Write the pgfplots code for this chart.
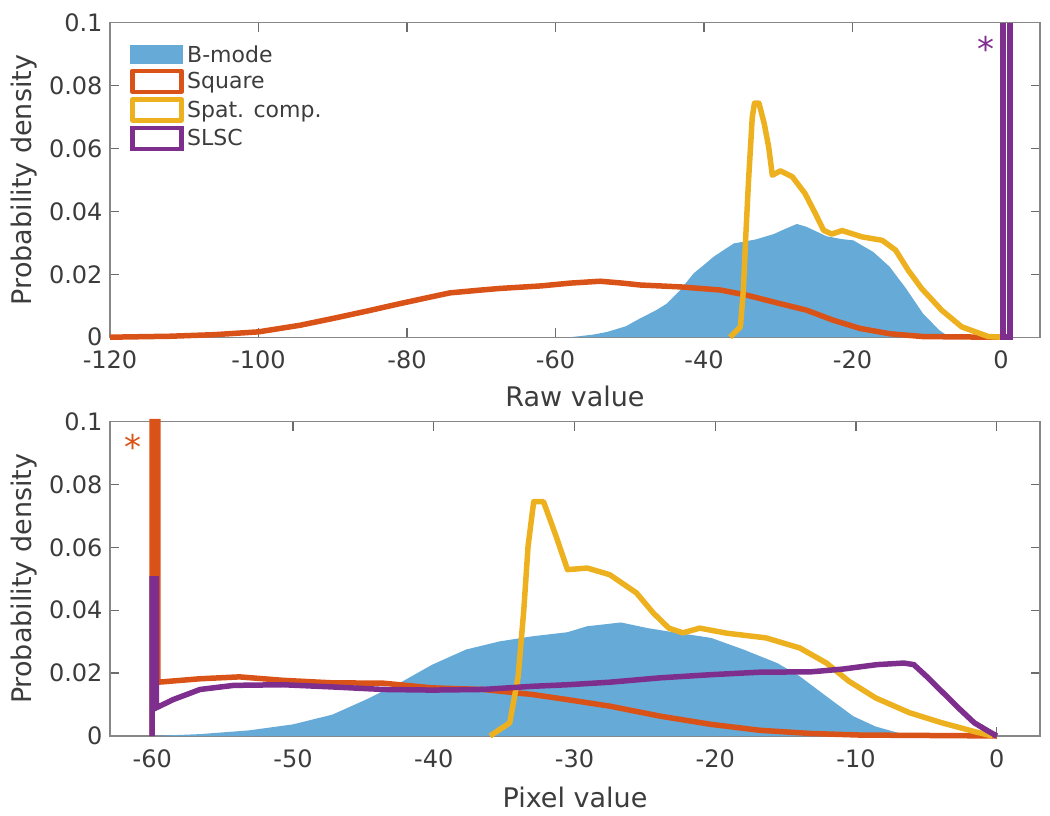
\documentclass[border=0pt]{standalone}
\usepackage{pgfplots}
\pgfplotsset{compat=1.18}
\usepackage{fontspec}
\setmainfont{DejaVu Sans}
\definecolor{bmode}{HTML}{66AAD8}
\definecolor{square}{HTML}{D95319}
\definecolor{spat}{HTML}{EDB120}
\definecolor{slsc}{HTML}{7E2F8E}
\definecolor{axgray}{RGB}{135,135,135}
\definecolor{txtgray}{RGB}{60,60,60}
\pgfplotsset{
  mlstyle/.style={
    scale only axis, width=930pt, height=314.5pt,
    ymin=0, ymax=0.1,
    ytick={0,0.02,0.04,0.06,0.08,0.1},
    yticklabels={0,0.02,0.04,0.06,0.08,0.1},
    axis line style={draw=axgray, line width=1.3pt},
    tick style={draw=axgray!80!black, line width=1.3pt},
    major tick length=9pt, tick align=inside,
    ticklabel style={font=\fontsize{24}{24}\selectfont, text=txtgray},
    xticklabel style={yshift=-10pt},
    yticklabel style={xshift=-4pt},
    label style={font=\fontsize{27}{27}\selectfont, text=txtgray},
    ylabel style={at={(axis description cs:-0.0925,0.5)}, anchor=center},
    clip=false,
    ylabel={Probability density},
  },
  lw/.style={line width=5.5pt, line join=round},
}
\begin{document}
\begin{tikzpicture}[x=1pt,y=1pt]
\useasboundingbox (-110,22.7) rectangle (940,-793.3);
\begin{axis}[mlstyle, at={(0pt,0pt)}, anchor=north west,
  xmin=-120, xmax=5.25,
  xtick={-120,-100,-80,-60,-40,-20,0},
  xticklabels={-120,-100,-80,-60,-40,-20,0},
  xlabel={Raw value},
  xlabel style={at={(axis description cs:0.5,0)}, anchor=base, yshift=-69pt},
  legend style={at={(axis description cs:0.0215,0.935)}, anchor=north west,
    draw=none, fill=none, inner sep=0pt, row sep=3pt,
    font=\fontsize{22}{26}\selectfont, text=txtgray,
    nodes={inner ysep=2pt, inner xsep=3.5pt}},
  legend cell align=left,
]
\addplot[fill=bmode, draw=none,
  legend image code/.code={\fill[bmode] (0pt,-9.5pt) rectangle (53pt,9.5pt);}]
  coordinates {(-58,0) (-55,0.0008) (-53,0.0017) (-50.5,0.0035) (-48.6,0.006) (-46.5,0.0085) (-45,0.0107) (-43.2,0.015) (-41.4,0.0203) (-40,0.023) (-38.7,0.0256) (-36,0.0298) (-33,0.0311) (-30.6,0.0328) (-29,0.0345) (-27.5,0.036) (-26.2,0.0351) (-23.5,0.0321) (-21.5,0.0312) (-19.9,0.0308) (-17.2,0.0271) (-15,0.0224) (-12.8,0.0155) (-10.5,0.0075) (-8.3,0.0022) (-6.9,0)} \closedcycle;
\addlegendentry{B-mode}
\addplot[square, lw,
  legend image code/.code={\draw[square, line width=4.5pt] (2pt,-10.5pt) rectangle (51pt,10.5pt);}]
  coordinates {(-120,0) (-112,0.0003) (-106,0.0008) (-100,0.0017) (-94.4,0.0038) (-89.9,0.006) (-85.4,0.0083) (-80.9,0.0107) (-76.4,0.013) (-74.2,0.0141) (-70,0.015) (-67.5,0.0155) (-62,0.0163) (-58,0.0172) (-54,0.0178) (-51,0.0172) (-48.6,0.0166) (-43.2,0.016) (-37.8,0.015) (-34.3,0.0134) (-29.8,0.0107) (-26.2,0.0086) (-22.6,0.0054) (-19,0.0028) (-15,0.0011) (-10.5,0.0002) (-1,0) (0,0)};
\addlegendentry{Square}
\addplot[spat, lw,
  legend image code/.code={\draw[spat, line width=4.5pt] (2pt,-10.5pt) rectangle (51pt,10.5pt);}]
  coordinates {(-36.5,0) (-35.1,0.0033) (-34.7,0.015) (-34.4,0.0309) (-34,0.05) (-33.5,0.07) (-33.2,0.0744) (-32.6,0.0744) (-31.9,0.068) (-31.3,0.0606) (-30.8,0.0515) (-29.7,0.0529) (-28.1,0.051) (-26.4,0.0457) (-25,0.0393) (-23.9,0.034) (-22.8,0.0328) (-21.4,0.0339) (-18.7,0.0319) (-16,0.0308) (-14.2,0.0277) (-12.5,0.0213) (-10.7,0.0155) (-8,0.0086) (-5.3,0.0033) (-1.7,0.0002) (0,0)};
\addlegendentry{Spat. comp.}
\addplot[slsc, lw, line join=miter,
  legend image code/.code={\draw[slsc, line width=4.5pt] (2pt,-10.5pt) rectangle (51pt,10.5pt);}]
  coordinates {(0.27,0.1) (0.27,0) (1.2,0) (1.2,0.1)};
\addlegendentry{SLSC}
\node[text=slsc, font=\fontsize{34}{34}\selectfont, anchor=base] at (axis cs:-2,0.0878) {*};
\end{axis}
\begin{axis}[mlstyle, at={(0pt,-398.8pt)}, anchor=north west,
  xmin=-63, xmax=3.07,
  xtick={-60,-50,-40,-30,-20,-10,0},
  xticklabels={-60,-50,-40,-30,-20,-10,0},
  xlabel={Pixel value},
  xlabel style={at={(axis description cs:0.5,0)}, anchor=base, yshift=-71.5pt},
]
\addplot[fill=bmode, draw=none]
  coordinates {(-60,0) (-56.6,0.0006) (-53.1,0.0018) (-50,0.0037) (-47.2,0.0068) (-44.8,0.0116) (-42.4,0.0169) (-40.1,0.0227) (-37.7,0.0275) (-35.3,0.0301) (-33,0.0317) (-30.5,0.033) (-29.1,0.0349) (-26.7,0.0361) (-24.8,0.0343) (-22.7,0.0328) (-20.3,0.0312) (-18,0.0275) (-15.6,0.0232) (-14,0.019) (-12.1,0.0126) (-10.2,0.0063) (-8.6,0.003) (-7,0.001) (-6.2,0)} \closedcycle;
\addplot[square, lw, line join=miter]
  coordinates {(-60,0) (-60,0.1) (-59.6,0.1) (-59.6,0.0171) (-56.6,0.0182) (-53.8,0.0188) (-50.7,0.0177) (-47.2,0.0169) (-43.6,0.0168) (-40.1,0.0153) (-36.5,0.0148) (-33,0.0132) (-30.7,0.0117) (-27.5,0.0095) (-23.9,0.0063) (-20.3,0.0037) (-16.8,0.0018) (-13.2,0.0008) (-9.7,0.0003) (-2.6,0.0001) (0,0)};
\addplot[spat, lw]
  coordinates {(-36,0) (-34.6,0.0042) (-34,0.019) (-33.6,0.0402) (-33.3,0.0603) (-32.9,0.0745) (-32.2,0.0745) (-31.3,0.0634) (-30.5,0.0529) (-29.1,0.0534) (-27.5,0.0513) (-25.6,0.0455) (-24.4,0.0391) (-23.3,0.0343) (-22.3,0.0328) (-21.1,0.0343) (-19.2,0.0327) (-16.4,0.0312) (-14,0.028) (-12.1,0.0232) (-10.5,0.0174) (-8.6,0.0121) (-6.2,0.0074) (-3.9,0.0042) (-1.5,0.0013) (-0.3,0)};
\addplot[slsc, lw, line join=miter]
  coordinates {(-60,0) (-60,0.05) (-59.7,0.05) (-59.7,0.009) (-58.5,0.0116) (-56.6,0.0148) (-54.2,0.0161) (-50.7,0.0163) (-47.2,0.0156) (-43.6,0.0148) (-40.1,0.0146) (-36.5,0.0148) (-33,0.0158) (-30.5,0.0163) (-27.5,0.0171) (-23.9,0.0185) (-20.3,0.0195) (-16.8,0.0203) (-13.2,0.0204) (-10.9,0.0213) (-8.5,0.0227) (-6.6,0.0232) (-5.9,0.0227) (-5,0.019) (-3.8,0.0137) (-2.6,0.0084) (-1.6,0.0042) (-0.7,0.0018) (0,0)};
\node[text=square, font=\fontsize{34}{34}\selectfont, anchor=base] at (axis cs:-61.4,0.0878) {*};
\end{axis}
\end{tikzpicture}
\end{document}
